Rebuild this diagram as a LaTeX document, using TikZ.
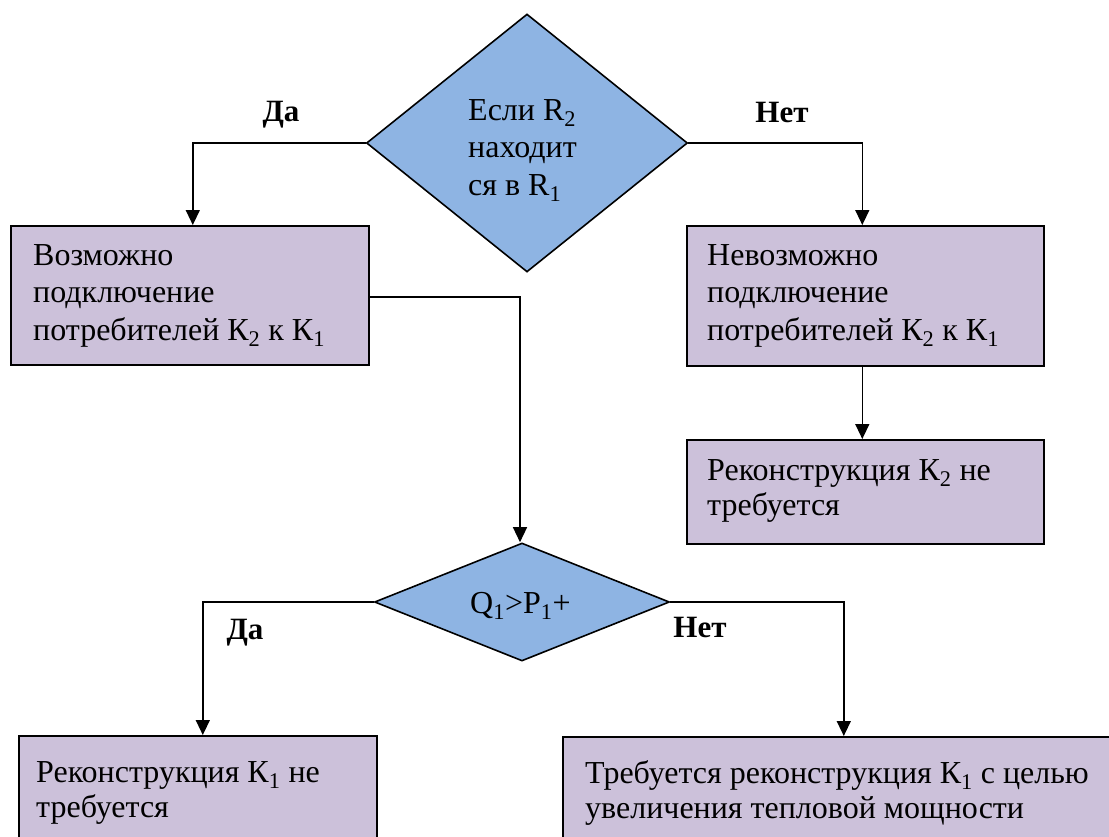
\documentclass[tikz,border=0pt]{standalone}
\usepackage{fontspec}
\setmainfont{Liberation Serif}
\usetikzlibrary{shapes.geometric,arrows.meta}
\definecolor{dblue}{HTML}{8EB4E3}
\definecolor{lav}{HTML}{CCC1DA}
\newcommand{\lw}[1]{\textsubscript{#1}}
\begin{document}
\begin{tikzpicture}[x=1pt,y=-1pt,
  boxst/.style={draw=black,fill=lav,line width=1.6pt,rectangle,inner sep=0pt,anchor=north west},
  dia/.style={draw=black,fill=dblue,line width=1.6pt,diamond,inner sep=0pt},
  txt/.style={anchor=base west,inner sep=0pt,font=\fontsize{32}{37.5}\selectfont},
  lbl/.style={anchor=base,inner sep=0pt,font=\fontsize{31}{34}\selectfont\bfseries},
  conn/.style={line width=1.4pt,-{Triangle[length=15pt,width=14pt]}}]
\useasboundingbox (0,0) rectangle (1109,836);
\clip (0,0) rectangle (1109,836);
% shapes
\node[dia,minimum width=321pt,minimum height=258pt] (d1) at (527,143) {};
\node[boxst,minimum width=358pt,minimum height=139pt] (b1) at (10,225) {};
\node[boxst,minimum width=357pt,minimum height=140pt] (b2) at (686,225) {};
\node[boxst,minimum width=357pt,minimum height=104pt] (b3) at (686,439) {};
\node[dia,minimum width=295pt,minimum height=118pt] (d2) at (522,602) {};
\node[boxst,minimum width=358pt,minimum height=140pt] (b4) at (18,735) {};
\node[boxst,minimum width=562pt,minimum height=140pt] (b5) at (562,736) {};
% texts
\node[txt] (t1a) at (468,120) {Если R\lw{2}};
\node[txt] (t1b) at (468,157.5) {находит};
\node[txt] (t1c) at (468,195) {ся в R\lw{1}};
\node[txt] (t2a) at (33,265) {Возможно};
\node[txt] (t2b) at (33,302.5) {подключение};
\node[txt] (t2c) at (33,340) {потребителей К\lw{2} к К\lw{1}};
\node[txt] (t3a) at (707,265) {Невозможно};
\node[txt] (t3b) at (707,302.5) {подключение};
\node[txt] (t3c) at (707,340) {потребителей К\lw{2} к К\lw{1}};
\node[txt] (t4a) at (707,480) {Реконструкция К\lw{2} не};
\node[txt] (t4b) at (707,515) {требуется};
\node[txt] (t5) at (470,613) {Q\lw{1}>P\lw{1}+};
\node[txt] (t6a) at (36,782) {Реконструкция К\lw{1} не};
\node[txt] (t6b) at (36,817) {требуется};
\node[txt] (t7a) at (585,783) {Требуется реконструкция К\lw{1} с целью};
\node[txt] (t7b) at (585,818) {увеличения тепловой мощности};
% labels
\node[lbl] (l1) at (281,121) {Да};
\node[lbl] (l2) at (782,122) {Нет};
\node[lbl] (l3) at (245,639) {Да};
\node[lbl] (l4) at (700,637) {Нет};
% connectors
\draw[conn] (d1.west) -| ([xshift=3pt]b1.north);
\draw[conn] (d1.east) -| ([xshift=-3pt]b2.north);
\draw[conn] ([xshift=-3pt]b2.south) -- ([xshift=-3pt]b3.north);
\draw[conn] ([yshift=-1.5pt]b1.east) -| ([xshift=-2pt]d2.north);
\draw[conn] (d2.west) -| ([xshift=5pt]b4.north);
\draw[conn] (d2.east) -| (b5.north);
\end{tikzpicture}
\end{document}
